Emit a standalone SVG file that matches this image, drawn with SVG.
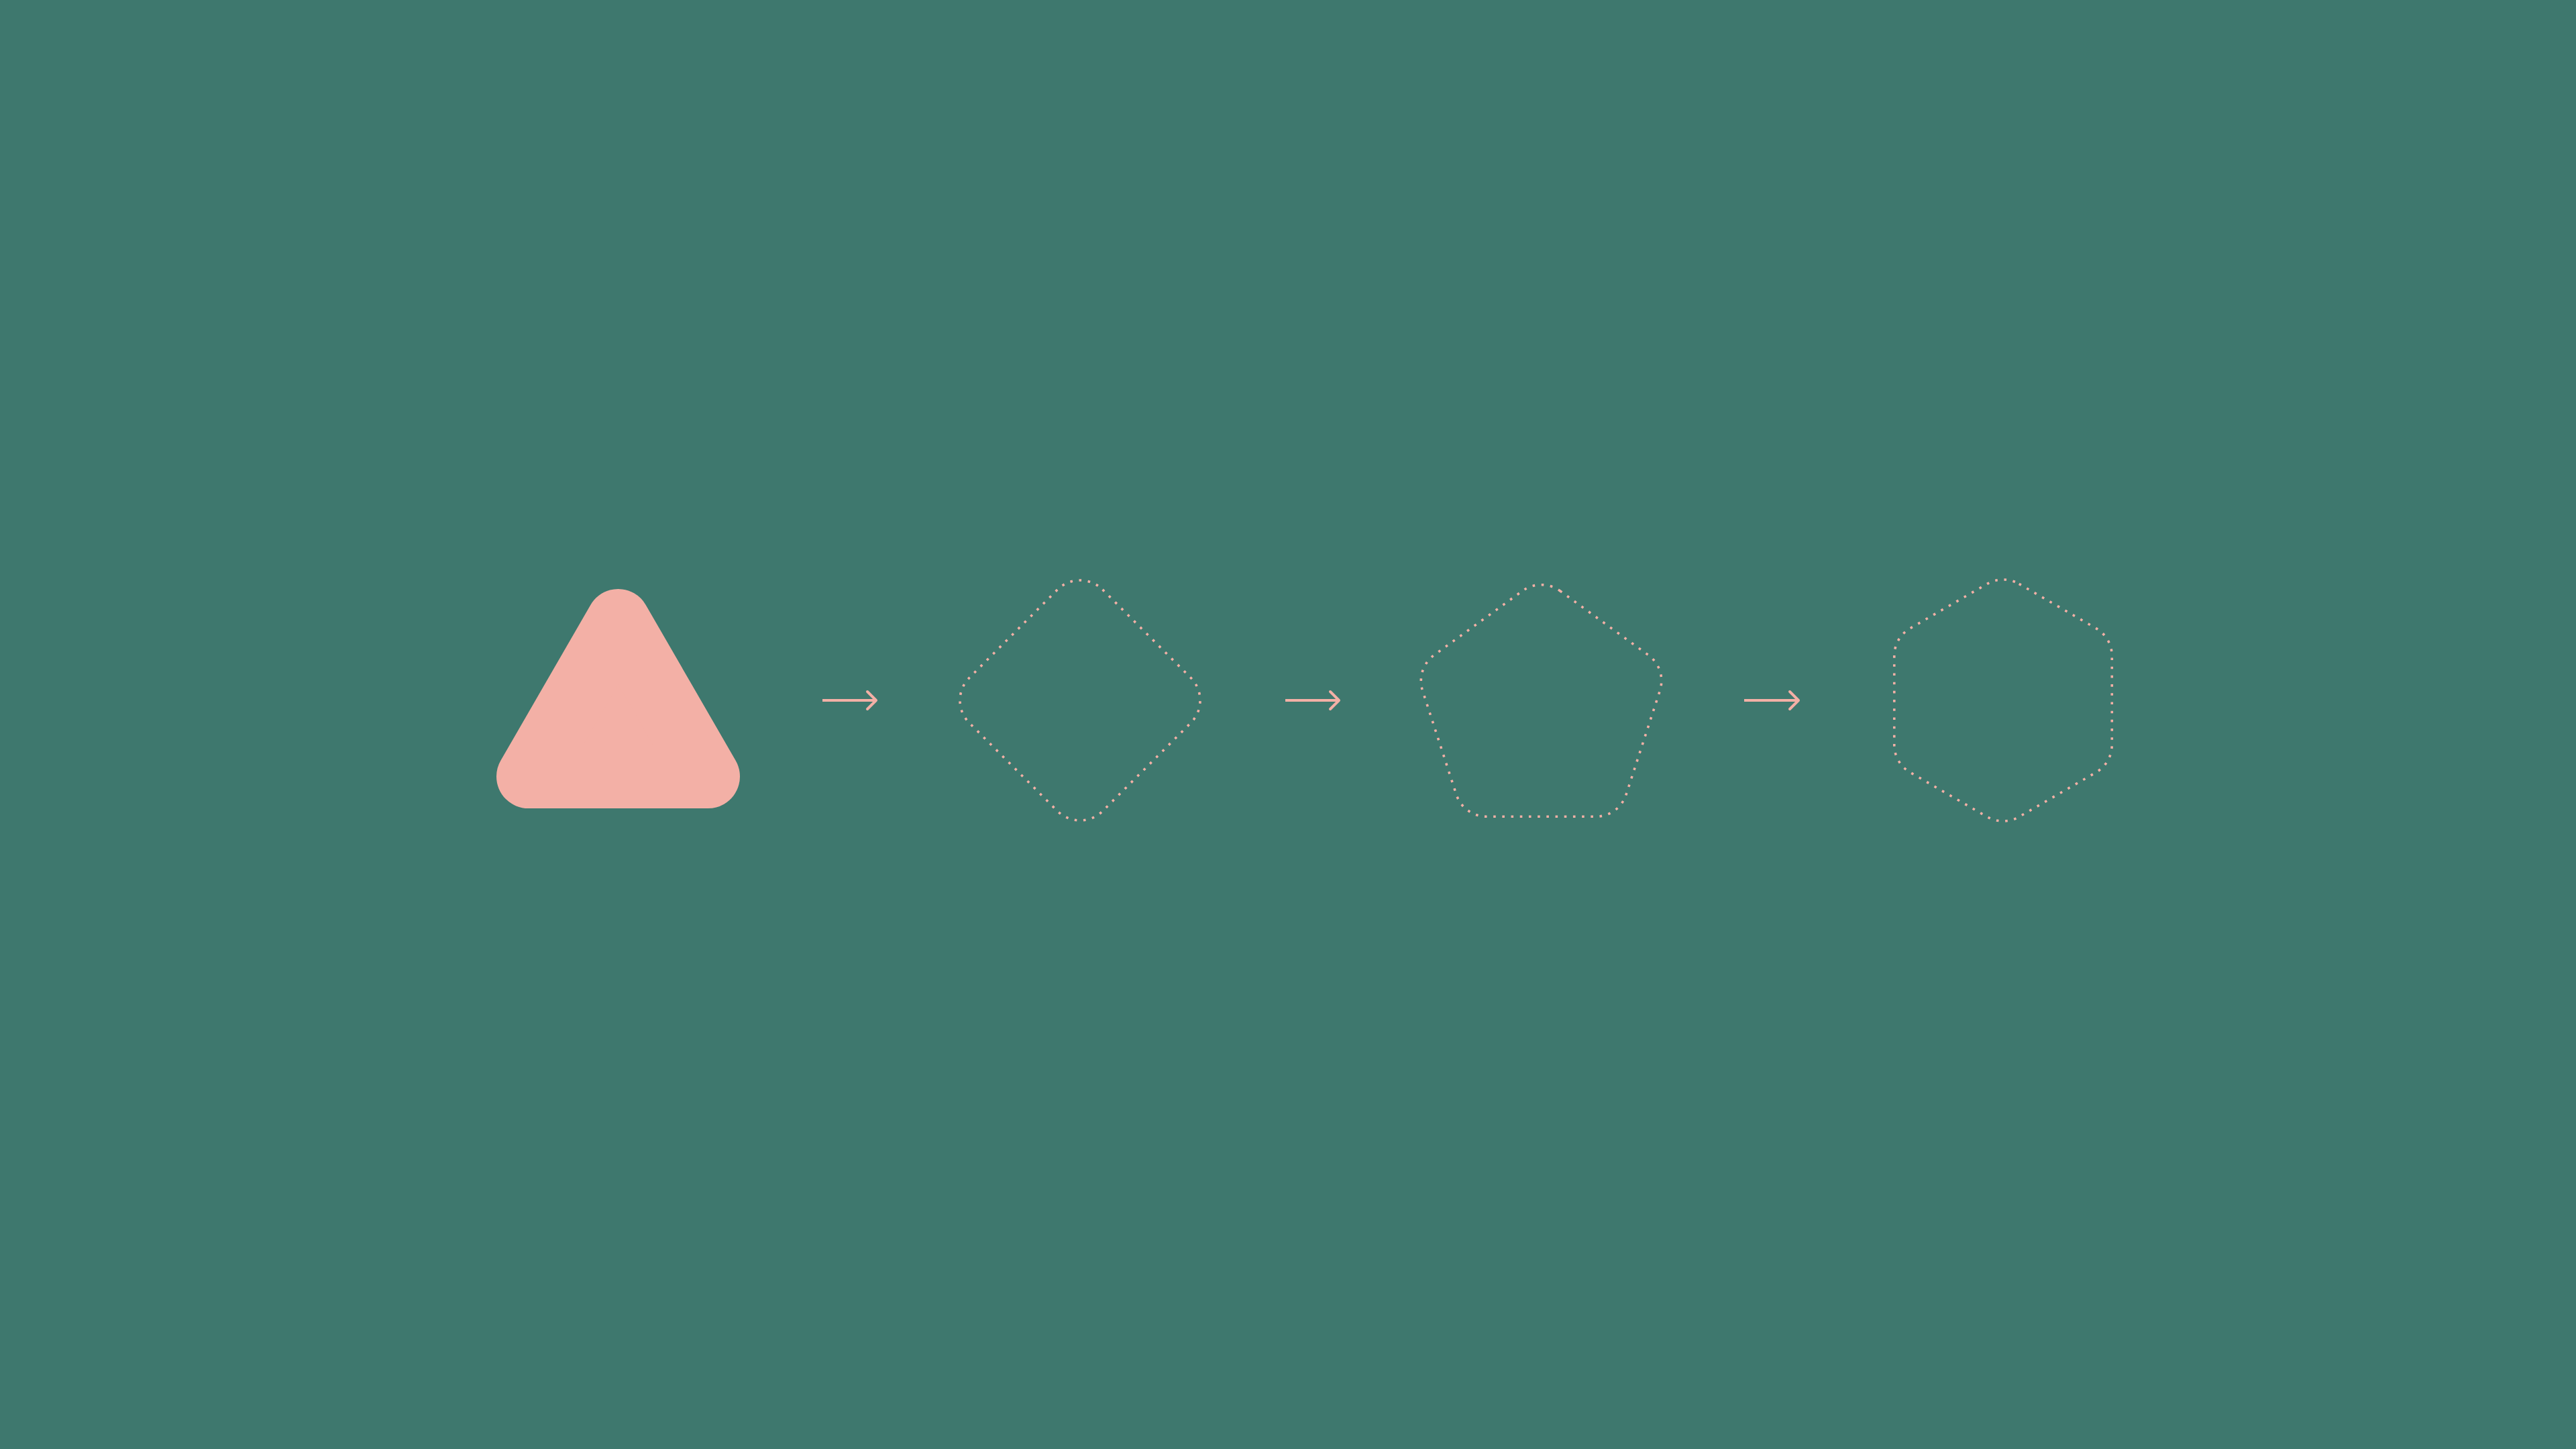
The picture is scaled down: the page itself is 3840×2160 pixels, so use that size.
<svg xmlns="http://www.w3.org/2000/svg" width="3840" height="2160" viewBox="0 0 3840 2160">
  <defs>
    <style>
      .bg { fill: #3E786E; }
      .solid { fill: #F3B0A6; stroke: #F3B0A6; stroke-width: 95; stroke-linejoin: round; }
      .dotted { fill: none; stroke: #F3B0A6; stroke-width: 3.6; stroke-dasharray: 3.6 9.6; }
      .arrow { fill: none; stroke: #F3B0A6; stroke-width: 4; stroke-linejoin: round; }
      .head { stroke-linecap: round; }
    </style>
  </defs>
  <rect class="bg" x="0" y="0" width="3840" height="2160"/>

  <g id="node-triangle">
    <polygon class="solid" points="921.5,925.5 1055.5,1157.5 787.5,1157.5"/>
  </g>

  <g id="node-diamond">
    <rect class="dotted" x="-140.5" y="-140.5" width="281" height="281" rx="47.5" ry="47.5" transform="translate(1610 1044) rotate(45)"/>
  </g>

  <g id="node-pentagon">
    <path class="dotted" d="M2325.42,880.77 L2457.14,976.47 A47.5,47.5 0 0 1 2474.40,1029.58 L2424.09,1184.43 A47.5,47.5 0 0 1 2378.91,1217.25 L2216.09,1217.25 A47.5,47.5 0 0 1 2170.91,1184.43 L2120.60,1029.58 A47.5,47.5 0 0 1 2137.86,976.47 L2269.58,880.77 A47.5,47.5 0 0 1 2325.42,880.77 Z"/>
  </g>

  <g id="node-hexagon">
    <path class="dotted" d="M3009.75,870.36 L3124.5,936.61 A47.5,47.5 0 0 1 3148.25,977.75 L3148.25,1110.25 A47.5,47.5 0 0 1 3124.5,1151.39 L3009.75,1217.64 A47.5,47.5 0 0 1 2962.25,1217.64 L2847.5,1151.39 A47.5,47.5 0 0 1 2823.75,1110.25 L2823.75,977.75 A47.5,47.5 0 0 1 2847.5,936.61 L2962.25,870.36 A47.5,47.5 0 0 1 3009.75,870.36 Z"/>
  </g>

  <g id="connectors">
    <g class="arrow">
      <line x1="1226" y1="1044" x2="1306" y2="1044"/>
      <polyline class="head" points="1293,1031 1306,1044 1293,1057"/>
    </g>
    <g class="arrow">
      <line x1="1916" y1="1044" x2="1996" y2="1044"/>
      <polyline class="head" points="1983,1031 1996,1044 1983,1057"/>
    </g>
    <g class="arrow">
      <line x1="2600" y1="1044" x2="2681" y2="1044"/>
      <polyline class="head" points="2668,1031 2681,1044 2668,1057"/>
    </g>
  </g>
</svg>
